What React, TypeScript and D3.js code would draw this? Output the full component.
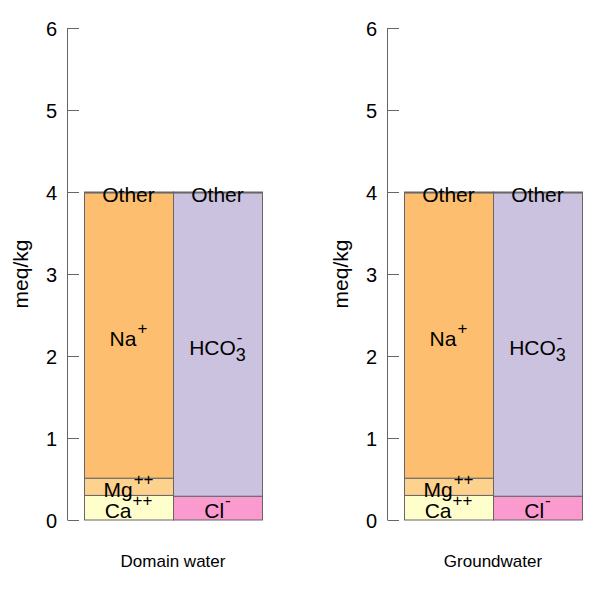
import * as d3 from "d3";
import { useEffect, useRef } from "react";

// panels (sample names)
const panelNames = ["Domain water", "Groundwater"];

// bar stacks, bottom to top (meq/kg)
const cationNames = ["Ca", "Mg", "Na", "Other"];
const cationSup = ["++", "++", "+", ""];
const cationValues = [
  [0.3, 0.21, 3.48, 0.01],
  [0.3, 0.21, 3.48, 0.01],
];
const anionNames = ["Cl", "HCO", "Other"];
const anionSub = ["", "3", ""];
const anionSup = ["-", "-", ""];
const anionValues = [
  [0.29, 3.7, 0.01],
  [0.29, 3.7, 0.01],
];

const yTicks = [0, 1, 2, 3, 4, 5, 6];

const cationColors = ["#ffffcc", "#fdd18e", "#fdbf6f", "#fdbf6f"];
const anionColors = ["#fb9acf", "#cac2df", "#cac2df"];

const W = 602;
const H = 593;

export default function App() {
  const ref = useRef<SVGSVGElement>(null);

  useEffect(() => {
    const svg = d3.select(ref.current);
    svg.selectAll("*").remove();

    const y = d3.scaleLinear().domain([0, 6]).range([520, 28]);
    const font = "'Liberation Sans', Arial, sans-serif";

    panelNames.forEach((name, p) => {
      const g = svg.append("g").attr("transform", `translate(${p * 320},0)`);
      const x = d3
        .scaleBand()
        .domain(["cat", "an"])
        .range([84, 262])
        .padding(0);

      // axis
      g.append("line")
        .attr("x1", 67.5).attr("x2", 67.5)
        .attr("y1", y(0)).attr("y2", y(6))
        .attr("stroke", "#666");
      const ticks = g.selectAll(".tk").data(yTicks).enter().append("g")
        .attr("transform", (d) => `translate(0,${Math.round(y(d)) + 0.5})`);
      ticks.append("line")
        .attr("x1", 67.5).attr("x2", 79).attr("stroke", "#666");
      ticks.append("text")
        .attr("x", 57).attr("y", 7)
        .attr("text-anchor", "end")
        .attr("font-family", font).attr("font-size", 20)
        .text((d) => d);

      g.append("text")
        .attr("transform", `translate(28,${(y(0) + y(6)) / 2}) rotate(-90)`)
        .attr("text-anchor", "middle")
        .attr("font-family", font).attr("font-size", 21)
        .text("meq/kg");

      g.append("text")
        .attr("x", 173).attr("y", 567)
        .attr("text-anchor", "middle")
        .attr("font-family", font).attr("font-size", 17)
        .text(name);

      const bars = [
        { key: "cat", names: cationNames, vals: cationValues[p], sup: cationSup, sub: cationNames.map(() => ""), colors: cationColors },
        { key: "an", names: anionNames, vals: anionValues[p], sup: anionSup, sub: anionSub, colors: anionColors },
      ];

      bars.forEach((b) => {
        const tops = d3.cumsum(b.vals);
        const segs = b.vals.map((v, i) => ({ y0: tops[i] - v, y1: tops[i], i }));
        const bx = x(b.key)!;
        const bw = x.bandwidth();
        g.append("g").selectAll("rect").data(segs).enter().append("rect")
          .attr("x", Math.round(bx) + 0.5)
          .attr("width", Math.round(bw))
          .attr("y", (d) => y(d.y1))
          .attr("height", (d) => y(d.y0) - y(d.y1))
          .attr("fill", (d) => b.colors[d.i])
          .attr("stroke", "#666")
          .attr("stroke-width", 1);

        segs.forEach((s) => {
          const cx = bx + bw / 2;
          const base = (y(s.y0) + y(s.y1)) / 2 + 10;
          const lg = g.append("g");
          const main = lg.append("text")
            .attr("x", 0).attr("y", base)
            .attr("font-family", font).attr("font-size", 21)
            .text(b.names[s.i]);
          const mw = (main.node() as SVGTextElement).getComputedTextLength();
          let extra = 0;
          if (b.sup[s.i]) {
            const t = lg.append("text")
              .attr("x", mw + 1).attr("y", base - 12)
              .attr("font-family", font).attr("font-size", 17)
              .text(b.sup[s.i]);
            extra = Math.max(extra, (t.node() as SVGTextElement).getComputedTextLength() + 1);
          }
          if (b.sub[s.i]) {
            const t = lg.append("text")
              .attr("x", mw).attr("y", base + 6)
              .attr("font-family", font).attr("font-size", 18)
              .text(b.sub[s.i]);
            extra = Math.max(extra, (t.node() as SVGTextElement).getComputedTextLength());
          }
          lg.attr("transform", `translate(${cx - (mw + extra) / 2},0)`);
        });
      });
    });
  }, []);

  return (
    <svg
      ref={ref}
      width={W}
      height={H}
      style={{ position: "absolute", left: 0, top: 0, background: "#fff" }}
    />
  );
}
